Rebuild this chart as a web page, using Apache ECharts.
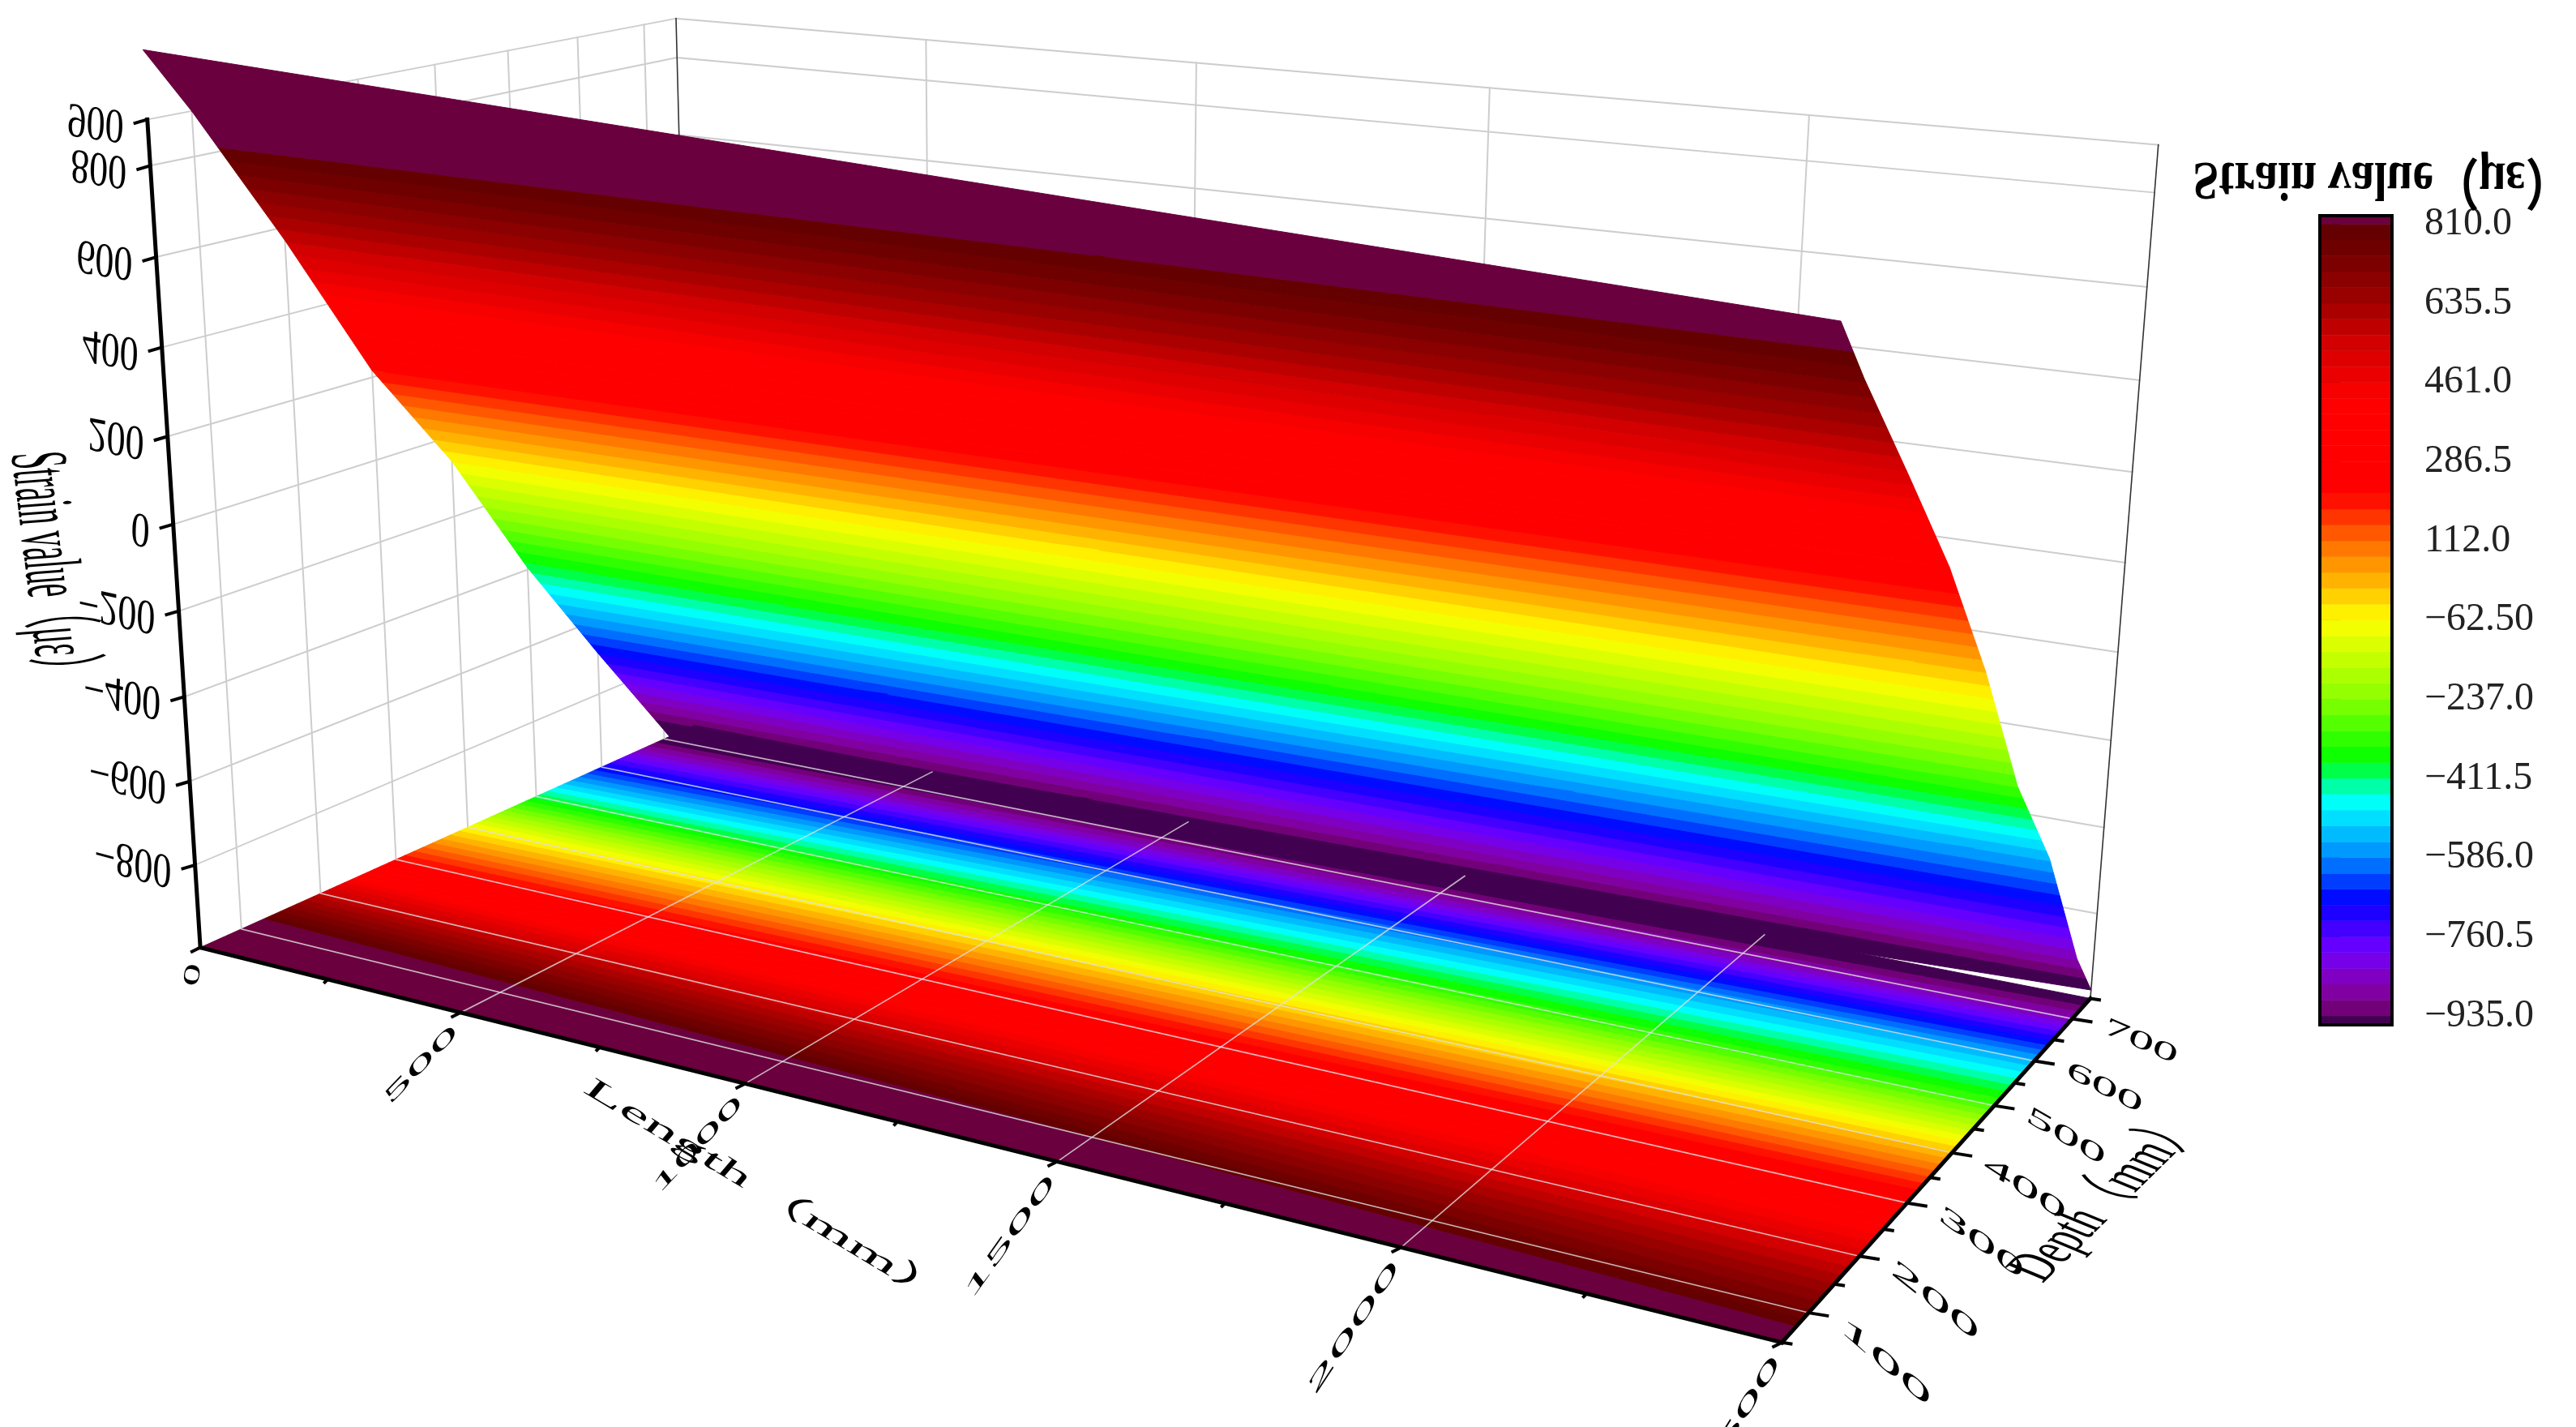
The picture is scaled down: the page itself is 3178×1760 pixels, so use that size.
<!DOCTYPE html>
<html><head><meta charset="utf-8">
<style>html,body{margin:0;padding:0;background:#fff}#c{width:3178px;height:1760px}</style>
<script src="https://cdn.jsdelivr.net/npm/echarts@6/dist/echarts.min.js"></script>
</head><body><div id="c"></div>
<script>
// ---------- data ----------
const lengths = [0, 2500];
const depths = [50, 100, 200, 300, 400, 500, 600, 700, 750];
const strainAtLength0 = [1050, 900, 570, 216, -62, -395, -690, -975, -1120];
const strainAtLength2500 = [875, 750, 520, 285, 10, -305, -545, -860, -980];

const lengthRange = [0, 2500];
const depthRange = [50, 750];
const strainRange = [-1000, 900];

const lengthTicks = [0, 500, 1000, 1500, 2000, 2500];
const lengthMinorTicks = [250, 750, 1250, 1750, 2250];
const depthTicks = [100, 200, 300, 400, 500, 600, 700];
const depthMinorTicks = [50, 150, 250, 350, 450, 550, 650, 750];
const strainTicks = [900, 800, 600, 400, 200, 0, -200, -400, -600, -800];

const colorbarValues = [810, 635.5, 461, 286.5, 112, -62.5, -237, -411.5, -586, -760.5, -935];
const colorbarLabels = ['810.0','635.5','461.0','286.5','112.0','\u221262.50','\u2212237.0','\u2212411.5','\u2212586.0','\u2212760.5','\u2212935.0'];
const levelCount = 50;
const capHigh = '#6a003e', capLow = '#420050';
const stopValues = [810,753,635,553,461,426,216,112,35,-62.5,-237,-372,-411,-467,-586,-681,-760,-790,-850,-900,-935];
const stopColors = ['#600000','#700000','#a00000','#d00000','#f00000','#ff0000','#ff0000','#ff6a00','#ffaa00','#ffff00','#88ff00','#00ff00','#00ff80','#00ffff','#0088ff','#0000ff','#5500ff','#7000ff','#8000c0','#800090','#640060'];

// ---------- camera: reference anchors for the 3D box ----------
const cameraAnchors = [
 [0,50,-1000,247,1170.5],[2500,50,-1000,2196,1658],[2500,750,-1000,2581,1230],[0,750,-1000,851,894],
 [0,750,900,836,24],[2500,750,900,2662,179],[0,50,900,181,145],
 [1000,50,-1000,920.5,1336],[2000,50,-1000,1729,1535],[0,50,0,212,648],
 [0,400,-1000,583,1019.6],[2500,400,-1000,2408,1424]
];
function norm3(L,D,z){return [L/2500,(D-50)/700,(z+1000)/1900];}
function fitCamera(){
  const n=11,A=[],b=[];
  for(let i=0;i<n;i++){A.push(new Array(n).fill(0));b.push(0);}
  const add=(r,v)=>{for(let i=0;i<n;i++){b[i]+=r[i]*v;for(let j=0;j<n;j++)A[i][j]+=r[i]*r[j];}};
  cameraAnchors.forEach(p=>{
    const [u,v,w]=norm3(p[0],p[1],p[2]),x=p[3]/1000,y=p[4]/1000;
    add([u,v,w,1,0,0,0,0,-x*u,-x*v,-x*w],x);
    add([0,0,0,0,u,v,w,1,-y*u,-y*v,-y*w],y);
  });
  for(let i=0;i<n;i++){
    let m=i;for(let k=i+1;k<n;k++)if(Math.abs(A[k][i])>Math.abs(A[m][i]))m=k;
    [A[i],A[m]]=[A[m],A[i]];[b[i],b[m]]=[b[m],b[i]];
    for(let k=i+1;k<n;k++){const f=A[k][i]/A[i][i];for(let j=i;j<n;j++)A[k][j]-=f*A[i][j];b[k]-=f*b[i];}
  }
  const h=new Array(n);
  for(let i=n-1;i>=0;i--){let s=b[i];for(let j=i+1;j<n;j++)s-=A[i][j]*h[j];h[i]=s/A[i][i];}
  return h;
}
const H=fitCamera();
function project(L,D,z){
  const [u,v,w]=norm3(L,D,z),d=H[8]*u+H[9]*v+H[10]*w+1;
  return [1000*(H[0]*u+H[1]*v+H[2]*w+H[3])/d,1000*(H[4]*u+H[5]*v+H[6]*w+H[7])/d];
}

// ---------- colour bands ----------
function hex(c){return [1,3,5].map(i=>parseInt(c.substr(i,2),16));}
function levelColor(v){
  for(let i=0;i<stopValues.length-1;i++){
    if(v<=stopValues[i]&&v>=stopValues[i+1]){
      const t=(stopValues[i]-v)/(stopValues[i]-stopValues[i+1]),a=hex(stopColors[i]),b=hex(stopColors[i+1]);
      return 'rgb('+a.map((x,k)=>Math.round(x+(b[k]-x)*t)).join(',')+')';
    }
  }
  return stopColors[stopColors.length-1];
}
const levelLow=colorbarValues[colorbarValues.length-1],levelHigh=colorbarValues[0],levelStep=(levelHigh-levelLow)/levelCount;
const bands=[{lo:-1e5,hi:levelLow,color:capLow}];
for(let i=0;i<levelCount;i++)bands.push({lo:levelLow+i*levelStep,hi:levelLow+(i+1)*levelStep,color:levelColor(levelLow+(i+.5)*levelStep)});
bands.push({lo:levelHigh,hi:1e5,color:capHigh});

function clipPoly(poly,val,above){
  const out=[];
  for(let i=0;i<poly.length;i++){
    const a=poly[i],b=poly[(i+1)%poly.length];
    const ia=above?a[2]>=val:a[2]<=val,ib=above?b[2]>=val:b[2]<=val;
    if(ia)out.push(a);
    if(ia!==ib){const t=(val-a[2])/(b[2]-a[2]);out.push([a[0]+(b[0]-a[0])*t,a[1]+(b[1]-a[1])*t,val]);}
  }
  return out;
}
const cells=[];
for(let i=0;i<depths.length-1;i++)cells.push([depths[i],depths[i+1],strainAtLength0[i],strainAtLength0[i+1],strainAtLength2500[i],strainAtLength2500[i+1]]);

function cellRenderer(onFloor){
  return function(params,api){
    const d0=api.value(0),d1=api.value(1),a0=api.value(2),a1=api.value(3),b0=api.value(4),b1=api.value(5);
    const L0=lengths[0],L1=lengths[1];
    const quad=[[L0,d0,a0],[L1,d0,b0],[L1,d1,b1],[L0,d1,a1]];
    const children=[];
    bands.forEach(bd=>{
      let p=clipPoly(clipPoly(quad,bd.lo,true),bd.hi,false);
      if(!onFloor)p=clipPoly(p,strainRange[0],true);
      if(p.length<3)return;
      children.push({type:'polygon',silent:true,shape:{points:p.map(q=>project(q[0],q[1],onFloor?strainRange[0]:q[2]))},
        style:{fill:bd.color,stroke:bd.color,lineWidth:1}});
    });
    return {type:'group',children};
  };
}

// ---------- line series ----------
function segmentSeries(name,segs,color,width,z){
  return {type:'custom',name,coordinateSystem:'none',z,silent:true,data:segs,
    renderItem(params,api){
      const a=project(api.value(0),api.value(1),api.value(2)),b=project(api.value(3),api.value(4),api.value(5));
      return {type:'line',silent:true,shape:{x1:a[0],y1:a[1],x2:b[0],y2:b[1]},style:{stroke:color,lineWidth:width,lineCap:'square'}};
    }};
}
const zMin=strainRange[0],zMax=strainRange[1],dMin=depthRange[0],dMax=depthRange[1],lMin=lengthRange[0],lMax=lengthRange[1];
const wallSegs=[];
strainTicks.forEach(s=>{wallSegs.push([lMin,dMin,s,lMin,dMax,s]);wallSegs.push([lMin,dMax,s,lMax,dMax,s]);});
depthTicks.forEach(d=>wallSegs.push([lMin,d,zMin,lMin,d,zMax]));
lengthTicks.slice(1,-1).forEach(l=>wallSegs.push([l,dMax,zMin,l,dMax,zMax]));
const floorSegs=[];
depthTicks.forEach(d=>floorSegs.push([lMin,d,zMin,lMax,d,zMin]));
lengthTicks.slice(1,-1).forEach(l=>floorSegs.push([l,dMin,zMin,l,dMax,zMin]));
const cornerSegs=[[lMin,dMax,zMin,lMin,dMax,zMax],[lMax,dMax,zMin,lMax,dMax,zMax]];
const axisSegs=[[lMin,dMin,zMin,lMin,dMin,zMax],[lMin,dMin,zMin,lMax,dMin,zMin],[lMax,dMin,zMin,lMax,dMax,zMin]];

// ---------- ticks and labels ----------
const font=(s,w)=>(w||'normal')+' '+s+'px "Liberation Serif","Noto Sans CJK SC",serif';
function warped(text,x,y,size,e1,e2,align,weight){
  const a=e1[0],b=e1[1],c=-e2[0],d=-e2[1];
  return {type:'text',silent:true,x,y,scaleX:a,scaleY:d,skewX:Math.atan(c/a),skewY:-Math.atan(b/d),
    style:{text,font:font(size,weight),fill:'#000',align:align||'center',verticalAlign:'middle'}};
}
const lengthLabelE1=[[.24,-.63],[1.3,-.47],[1.19,-.48],[1.19,-.63],[1.19,-.68],[1.07,-.72]];
const lengthLabelE2=[[-1.25,-.12],[-.95,-.45],[-.95,-.45],[-.95,-.45],[-.95,-.45],[-.95,-.45]];
function tickSeries(){
  const items=[];
  strainTicks.forEach((s,i)=>items.push(['strain',i]));
  lengthTicks.forEach((s,i)=>items.push(['length',i]));
  lengthMinorTicks.forEach((s,i)=>items.push(['lengthMinor',i]));
  depthTicks.forEach((s,i)=>items.push(['depth',i]));
  depthMinorTicks.forEach((s,i)=>items.push(['depthMinor',i]));
  const tick=(p,dx,dy)=>({type:'line',silent:true,shape:{x1:p[0],y1:p[1],x2:p[0]+dx,y2:p[1]+dy},style:{stroke:'#000',lineWidth:4}});
  return {type:'custom',name:'Axis ticks',coordinateSystem:'none',z:8,silent:true,data:items,dimensions:['kind','index'],
    encode:{},
    renderItem(params){
      const it=items[params.dataIndex],kind=it[0],i=it[1];
      if(kind==='strain'){
        const s=strainTicks[i],p=project(lMin,dMin,s),t=(zMax-s)/1700,sl=-.18-.15*t;
        const txt=s<0?'\u2212'+(-s):String(s);
        return {type:'group',children:[tick(p,-17,5),
          warped(txt,p[0]-29,p[1]+6,48,[.96,sl],[.03,1.25],'right')]};
      }
      if(kind==='length'){
        const p=project(lengthTicks[i],dMin,zMin);
        return {type:'group',children:[tick(p,-12,6),
          warped(String(lengthTicks[i]),p[0]-6,p[1]+20,44,lengthLabelE1[i],lengthLabelE2[i],'right')]};
      }
      if(kind==='lengthMinor'){const p=project(lengthMinorTicks[i],dMin,zMin);return tick(p,-5,5);}
      if(kind==='depth'){
        const d=depthTicks[i],p=project(lMax,d,zMin),t=(d-100)/600;
        return {type:'group',children:[tick(p,25,4),
          warped(String(d),p[0]+40,p[1]+14-5*t,44,[1.67-.32*t,.58-.29*t],[.46,-.67-0*t],'left')]};
      }
      const p=project(lMax,depthMinorTicks[i],zMin);return tick(p,13,2);
    }};
}
const axisTitles=[
 {text:'Strain value\uff08\u03bc\u03b5\uff09',x:58,y:702,size:50,e1:[.09,1.24],e2:[1.2,-.15]},
 {text:'Length\uff08mm\uff09',x:949,y:1474,size:50,e1:[1.41,.33],e2:[1.2,-.55]},
 {text:'Depth\uff08mm\uff09',x:2600,y:1478,size:50,e1:[.66,-.59],e2:[-1.6,-.6]},
 {text:'Strain value\uff08\u03bc\u03b5\uff09',x:2939,y:219,size:57,e1:[1,0],e2:[0,1.2],weight:'bold'}
];
const titleSeries={type:'custom',name:'Titles',coordinateSystem:'none',z:9,silent:true,data:axisTitles.map((t,i)=>[i]),
  renderItem(params){const t=axisTitles[params.dataIndex];return warped(t.text,t.x,t.y,t.size,t.e1,t.e2,'center',t.weight);}};

// ---------- colour bar on its own grid and axis ----------
const colorbarBandRows=bands.map(b=>[Math.max(b.lo,-954.7),Math.min(b.hi,828.6)]);
const colorbarSeries={type:'custom',name:'Colour scale',xAxisIndex:0,yAxisIndex:0,silent:true,z:5,data:colorbarBandRows,
  encode:{y:[0,1]},
  renderItem(params,api){
    const top=api.coord([0,api.value(1)]),bot=api.coord([1,api.value(0)]);
    const c=bands[params.dataIndex].color;
    return {type:'rect',silent:true,shape:{x:top[0],y:top[1],width:bot[0]-top[0],height:bot[1]-top[1]},style:{fill:c,stroke:c,lineWidth:.6}};
  }};
const colorbarFrame={type:'custom',name:'Colour scale frame',xAxisIndex:0,yAxisIndex:0,silent:true,z:6,data:[[0,-954.7,1,828.6]],
  renderItem(params,api){
    const a=api.coord([api.value(0),api.value(3)]),b=api.coord([api.value(2),api.value(1)]);
    return {type:'rect',silent:true,shape:{x:a[0],y:a[1],width:b[0]-a[0],height:b[1]-a[1]},style:{fill:'none',stroke:'#000',lineWidth:4}};
  }};

const option={
  animation:false,backgroundColor:'#fff',
  grid:{left:2862,top:266,width:89,height:998,containLabel:false},
  xAxis:{type:'value',min:0,max:1,show:false},
  yAxis:{type:'value',position:'right',min:-954.7,max:828.6,
    splitLine:{show:false},
    axisLine:{show:true,lineStyle:{color:'#000',width:4}},
    axisTick:{show:true,length:25,lineStyle:{color:'#000',width:4},customValues:colorbarValues},
    axisLabel:{show:true,margin:40,fontFamily:'Liberation Serif',fontSize:48,color:'#222',customValues:colorbarValues,
      formatter:(v)=>colorbarLabels[colorbarValues.indexOf(v)]}},
  series:[
    segmentSeries('Wall grid',wallSegs,'#cdcdcd',2,1),
    segmentSeries('Box corners',cornerSegs,'#333',1.6,1),
    {type:'custom',name:'Strain surface',coordinateSystem:'none',z:3,silent:true,data:cells,renderItem:cellRenderer(false)},
    {type:'custom',name:'Floor contour',coordinateSystem:'none',z:4,silent:true,data:cells,renderItem:cellRenderer(true)},
    segmentSeries('Floor grid',floorSegs,'rgba(225,225,225,0.8)',1.6,5),
    segmentSeries('Axes',axisSegs,'#000',5,7),
    tickSeries(),titleSeries,colorbarSeries,colorbarFrame
  ]
};
const chart=echarts.init(document.getElementById('c'),null,{renderer:'canvas',width:3178,height:1760});
chart.setOption(option);
</script></body></html>
